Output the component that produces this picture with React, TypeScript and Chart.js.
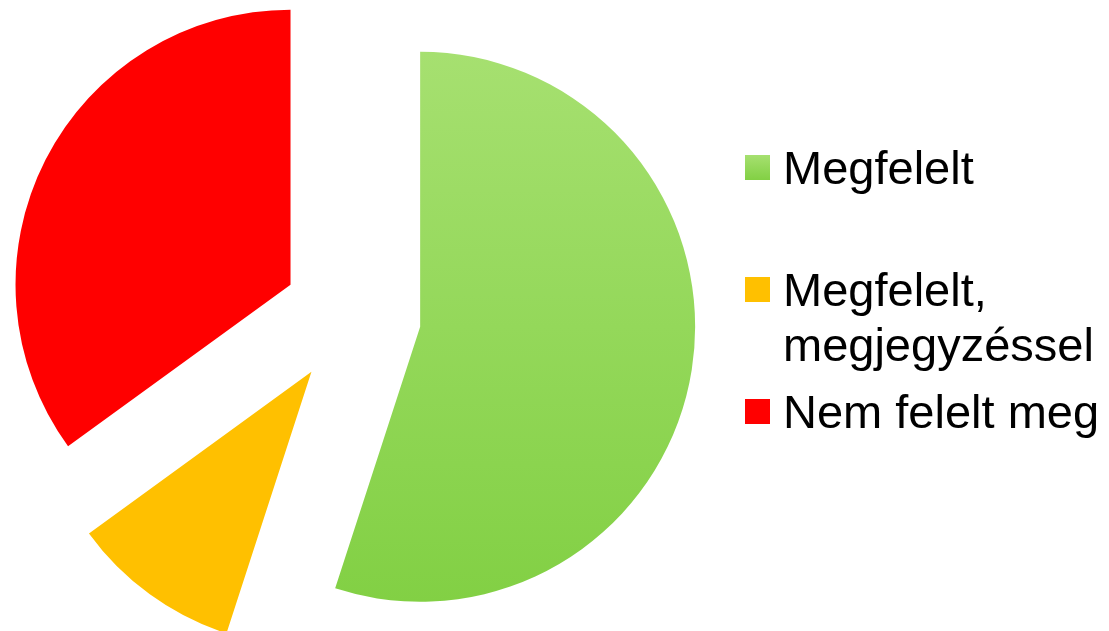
import React, { useEffect, useRef } from "react";
import { Chart, registerables } from "chart.js";

Chart.register(...registerables);

const categories: (string | string[])[] = ["Megfelelt", ["Megfelelt,", "megjegyzéssel"], "Nem felelt meg"];
const values: number[] = [11, 2, 7];
const sliceColors: string[] = ["#93d957", "#ffc000", "#ff0000"];
const greenTop = "#a6e070";
const greenBottom = "#82d044";

const RADIUS = 275;
const EXPLODE = 69; // visible pixel shift of each slice away from the centre

function greenGradient(chart: any) {
  const ca = chart.chartArea;
  const c = chart.ctx;
  if (!ca) return sliceColors[0];
  const cy = (ca.top + ca.bottom) / 2;
  const mid = (9 / 180) * Math.PI;
  const gy = cy + Math.sin(mid) * EXPLODE;
  const g = c.createLinearGradient(0, gy - RADIUS, 0, gy + RADIUS);
  g.addColorStop(0, greenTop);
  g.addColorStop(1, greenBottom);
  return g;
}

// explode slices by moving each arc's centre along its mid-angle (keeps edges radial)
const explodePlugin = {
  id: "explodeSlices",
  beforeDatasetsDraw(chart: any) {
    const ca = chart.chartArea;
    const cx = (ca.left + ca.right) / 2;
    const cy = (ca.top + ca.bottom) / 2;
    const meta = chart.getDatasetMeta(0);
    meta.data.forEach((arc: any) => {
      const half = (arc.startAngle + arc.endAngle) / 2;
      arc.x = cx + Math.cos(half) * EXPLODE;
      arc.y = cy + Math.sin(half) * EXPLODE;
    });
  },
};

const legendPlugin = {
  id: "customLegend",
  afterDraw(chart: any) {
    const ctx = chart.ctx;
    const labels = chart.data.labels as (string | string[])[];
    const x0 = 745;
    const box = 25;
    const textX = 783;
    const firstBaseline = 184;
    const itemStep = 122;
    const lineH = 55;
    ctx.save();
    ctx.font = '47px "Liberation Sans", Arial, sans-serif';
    ctx.textBaseline = "alphabetic";
    ctx.textAlign = "left";
    labels.forEach((lab, i) => {
      const base = firstBaseline + itemStep * i;
      const top = base - 29;
      let fill: any = sliceColors[i];
      if (i === 0) {
        const g = ctx.createLinearGradient(0, top, 0, top + box);
        g.addColorStop(0, greenTop);
        g.addColorStop(1, greenBottom);
        fill = g;
      }
      ctx.fillStyle = fill;
      ctx.fillRect(x0, top, box, box);
      ctx.fillStyle = "#000000";
      const lines = Array.isArray(lab) ? lab : [lab];
      lines.forEach((ln, j) => ctx.fillText(ln, textX, base + j * lineH));
    });
    ctx.restore();
  },
};

export default function App() {
  const ref = useRef<HTMLCanvasElement | null>(null);
  useEffect(() => {
    document.body.style.margin = "0";
    const canvas = ref.current;
    if (!canvas) return;
    const chart = new Chart(canvas, {
      type: "pie",
      data: {
        labels: categories as any,
        datasets: [
          {
            data: values,
            backgroundColor: (c: any) => (c.dataIndex === 0 ? greenGradient(c.chart) : sliceColors[c.dataIndex]),
            borderWidth: 0,
            offset: 0,
            hoverOffset: 0,
          } as any,
        ],
      },
      options: {
        responsive: false,
        animation: false,
        radius: RADIUS,
        layout: { padding: { left: 0, right: 405, top: 1, bottom: 0 } },
        events: [],
        plugins: {
          legend: { display: false },
          tooltip: { enabled: false },
        },
      } as any,
      plugins: [explodePlugin, legendPlugin],
    });
    return () => chart.destroy();
  }, []);
  return (
    <div style={{ position: "absolute", left: 0, top: 0, width: 1109, height: 631, background: "#ffffff" }}>
      <canvas ref={ref} width={1109} height={631} />
    </div>
  );
}
